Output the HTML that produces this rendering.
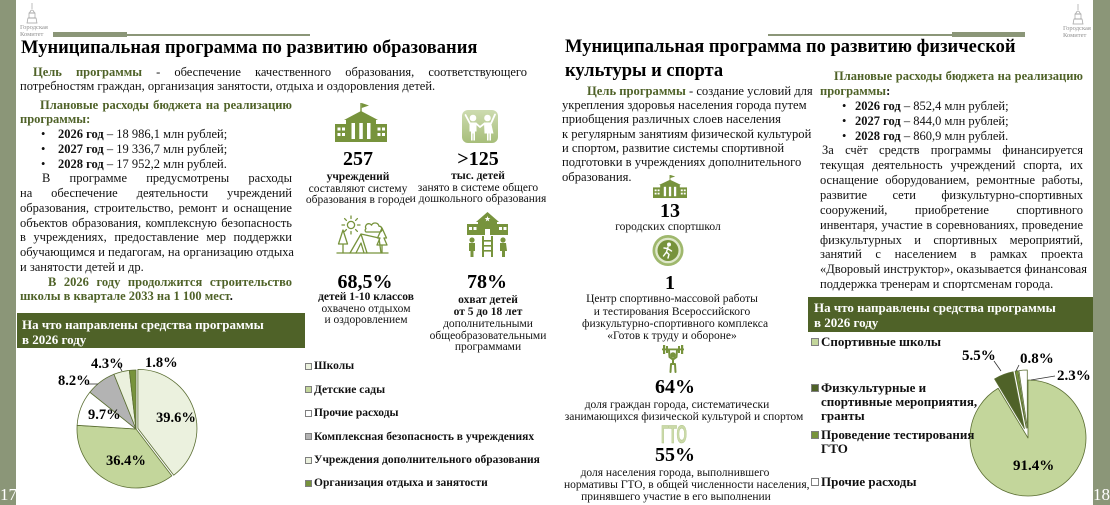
<!DOCTYPE html>
<html><head><meta charset="utf-8">
<style>
*{margin:0;padding:0;box-sizing:border-box}
html,body{width:1110px;height:505px;overflow:hidden;background:#fff}
body{position:relative;font-family:"Liberation Serif","DejaVu Serif",serif;color:#111}
.a{position:absolute;white-space:nowrap}
.j{text-align:justify;text-align-last:justify}
.g{color:#4f6228;font-weight:bold}
.b{font-weight:bold}
.t{font-size:12.5px;line-height:14.8px;height:14.8px}
.m{font-size:12.6px;line-height:14.3px;height:14.3px}
.s{font-size:11.5px;line-height:12px;height:12px;text-align:center}
.n{font-size:20px;line-height:22px;height:22px;font-weight:bold;text-align:center;color:#000}
.lg{font-size:11.5px;line-height:12px;font-weight:bold;color:#111}
.rg{font-size:13px;line-height:14px;font-weight:bold;color:#111}
.mk{position:absolute;border:1px solid #7f7f7f}
</style></head><body>

<svg style="position:absolute;left:0;top:0" width="1110" height="505" viewBox="0 0 1110 505">
<defs>
<linearGradient id="kg" x1="0" y1="0" x2="0" y2="1"><stop offset="0" stop-color="#cddbb0"/><stop offset="1" stop-color="#a7be7a"/></linearGradient>
</defs>
<rect x="0" y="0" width="16" height="505" fill="#8b9678"/>
<rect x="1093" y="0" width="17" height="505" fill="#8b9678"/>
<rect x="53" y="32" width="74" height="5" fill="#8b9678"/>
<rect x="127" y="34" width="183" height="2" fill="#8b9678"/>
<rect x="768" y="34" width="184" height="2" fill="#8b9678"/>
<rect x="952" y="32" width="73" height="5" fill="#8b9678"/>
<g stroke="#a0a0a0" stroke-width="0.7" fill="none">
<line x1="32" y1="3" x2="32" y2="9"/><path d="M29.5,13 Q32,7 34.5,13 Z"/><rect x="29" y="13" width="6" height="5"/><path d="M27,23 L28,18 L36,18 L37,23 Z"/>
<line x1="1078" y1="4" x2="1078" y2="10"/><path d="M1075.5,14 Q1078,8 1080.5,14 Z"/><rect x="1075" y="14" width="6" height="5"/><path d="M1073,24 L1074,19 L1082,19 L1083,24 Z"/>
</g>
<text x="20" y="29" font-size="6.5" fill="#909090" font-family="Liberation Serif">Городская</text>
<text x="20" y="36" font-size="6.5" fill="#909090" font-family="Liberation Serif">Комитет</text>
<text x="1063" y="30" font-size="6.5" fill="#909090" font-family="Liberation Serif">Городская</text>
<text x="1063" y="37" font-size="6.5" fill="#909090" font-family="Liberation Serif">Комитет</text>

<rect x="17" y="313" width="288" height="35" fill="#4f6228"/>
<rect x="808" y="297" width="285" height="35" fill="#4f6228"/>

<g>
<g fill="#77933c">
<rect x="360.3" y="103" width="1.4" height="10"/>
<polygon points="361.7,103 369,105.5 361.7,108"/>
<polygon points="344,120 361,111 378,120"/>
<rect x="346" y="119" width="30" height="23"/>
<rect x="335" y="124" width="52" height="18"/>
</g>
<g fill="#fff">
<rect x="337.5" y="127.5" width="3" height="3"/><rect x="342" y="127.5" width="3" height="3"/>
<rect x="337.5" y="133" width="3" height="3"/><rect x="342" y="133" width="3" height="3"/>
<rect x="377.5" y="127.5" width="3" height="3"/><rect x="382" y="127.5" width="3" height="3"/>
<rect x="377.5" y="133" width="3" height="3"/><rect x="382" y="133" width="3" height="3"/>
<rect x="351.5" y="123" width="3.5" height="16"/><rect x="359.3" y="123" width="3.5" height="16"/><rect x="367" y="123" width="3.5" height="16"/>
</g>
</g>
<g transform="translate(653,175) scale(0.654,0.59) translate(-335,-103)">
<g fill="#77933c">
<rect x="360.3" y="103" width="1.4" height="10"/>
<polygon points="361.7,103 369,105.5 361.7,108"/>
<polygon points="344,120 361,111 378,120"/>
<rect x="346" y="119" width="30" height="23"/>
<rect x="335" y="124" width="52" height="18"/>
</g>
<g fill="#fff">
<rect x="337.5" y="127.5" width="3" height="3"/><rect x="342" y="127.5" width="3" height="3"/>
<rect x="337.5" y="133" width="3" height="3"/><rect x="342" y="133" width="3" height="3"/>
<rect x="377.5" y="127.5" width="3" height="3"/><rect x="382" y="127.5" width="3" height="3"/>
<rect x="377.5" y="133" width="3" height="3"/><rect x="382" y="133" width="3" height="3"/>
<rect x="351.5" y="123" width="3.5" height="16"/><rect x="359.3" y="123" width="3.5" height="16"/><rect x="367" y="123" width="3.5" height="16"/>
</g>
</g>

<rect x="462" y="110" width="36" height="33" rx="6" fill="url(#kg)"/>
<g fill="#fff">
<circle cx="473" cy="118" r="3.3"/><circle cx="487.5" cy="118" r="3.3"/>
<path d="M469.5,122.5 h7 v9 h-1.5 v9 h-1.6 v-7 h-0.8 v7 h-1.6 v-9 h-1.5z"/>
<path d="M484,122.5 h7 l2.5,11 h-2.5 v7 h-1.6 v-7 h-0.8 v7 h-1.6 v-7 h-2.5z"/>
</g>
<g stroke="#fff" stroke-width="1.8" stroke-linecap="round" fill="none">
<path d="M470,123.5 L465.5,115"/><path d="M476,123.5 L480,127 L484.5,123.5"/><path d="M491,123.5 L495,114.5"/>
</g>

<g stroke="#77933c" stroke-width="1.3" fill="none" stroke-linecap="round" stroke-linejoin="round">
<circle cx="351" cy="225" r="3.6"/>
<path d="M351,216 v2.5 M351,231.5 v2.5 M342,225 h2.5 M357.5,225 h2.5 M344.6,218.6 l1.8,1.8 M355.6,229.6 l1.8,1.8 M357.4,218.6 l-1.8,1.8 M346.4,229.6 l-1.8,1.8"/>
<path d="M366,232 h14 a3,3 0 0 0 -1,-5.8 a4,4 0 0 0 -7.5,-1 a3,3 0 0 0 -5.5,3.5 a2,2 0 0 0 0,3.3z"/>
<path d="M350,253 L361,234 L379,238 L381,253 M361,234 L367,253 M356,253 L361,243 L364,253"/>
<path d="M343,230 L338.5,244 H347.5 Z M343,244 V253"/>
<path d="M382,228 L377.5,238 h2.5 l-3,7 h10 l-3,-7 h2.5 Z M382,245 V253"/>
<path d="M337,253 H388"/>
</g>

<g fill="#77933c">
<polygon points="476,222 487.5,212 499,222"/>
<rect x="478" y="221" width="19" height="14"/>
<rect x="467" y="224" width="11" height="11"/>
<rect x="497" y="224" width="11" height="11"/>
<circle cx="472" cy="240" r="2.6"/><path d="M469,243 h6 v8 h-1.5 v6 h-3 v-6 h-1.5z"/>
<circle cx="503" cy="240" r="2.6"/><path d="M500,243 h6 l1,8 h-2 v6 h-3 v-6 h-2z"/>
<path d="M482,236 h2 v21 h-2z M491,236 h2 v21 h-2z M484,240 h7 v1.6 h-7z M484,245 h7 v1.6 h-7z M484,250 h7 v1.6 h-7z"/>
</g>
<g fill="#fff">
<polygon points="487.5,216 488.2,218.03 490.35,218.07 488.64,219.37 489.26,221.43 487.5,220.2 485.74,221.43 486.36,219.37 484.65,218.07 486.8,218.03"/>
<rect x="469" y="227" width="3" height="3"/><rect x="473.5" y="227" width="3" height="3"/>
<rect x="499" y="227" width="3" height="3"/><rect x="503.5" y="227" width="3" height="3"/>
<rect x="485" y="229" width="5" height="6"/>
</g>

<circle cx="668" cy="250.5" r="15.5" fill="#9fb86d"/>
<circle cx="668" cy="250.5" r="12.8" fill="#dfe8cb"/>
<circle cx="668" cy="250.5" r="10.5" fill="#77933c"/>
<g stroke="#fff" stroke-width="1.4" fill="none" stroke-linecap="round">
<circle cx="669" cy="244.5" r="1.3" fill="#fff"/>
<path d="M668,247 L666.5,252 L669,254.5 L668,258 M666.5,252 L663.5,256 M667.5,248.5 L671.5,251 M667.5,248.5 L664,248"/>
</g>

<g fill="#77933c">
<rect x="662" y="348.5" width="22" height="1.8"/>
<rect x="663" y="345" width="2.2" height="9"/><rect x="666" y="346" width="2" height="7"/>
<rect x="678" y="346" width="2" height="7"/><rect x="681" y="345" width="2.2" height="9"/>
<circle cx="673" cy="355" r="2.8"/>
</g>
<g stroke="#77933c" stroke-width="2" fill="none" stroke-linecap="round" stroke-linejoin="round">
<path d="M669,350 L669.5,357 L673,359.5 L676.5,357 L677,350"/>
<path d="M673,359 V364 M670.5,372 L671,364 H675 L675.5,372"/>
</g>

<text x="661" y="443" font-size="25" font-weight="bold" font-family="Liberation Sans" fill="#cbdaa8" stroke="#b0c58a" stroke-width="0.6" textLength="26" lengthAdjust="spacingAndGlyphs">ГТО</text>

<g stroke="#5b6e33" stroke-width="0.8" stroke-linejoin="round">
<path d="M137.9,428.36 L137.9,369.36 A59,59 0 0 1 173.77,475.2 Z" fill="#ebf1de"/>
<path d="M136,429 L171.87,475.84 A59,59 0 0 1 77.12,425.29 Z" fill="#c3d69b"/>
<path d="M136,429 L77.12,425.29 A59,59 0 0 1 89.85,392.24 Z" fill="#ffffff"/>
<path d="M136,429 L89.85,392.24 A59,59 0 0 1 113.94,374.28 Z" fill="#b3b3b3"/>
<path d="M136,429 L113.94,374.28 A59,59 0 0 1 129.34,370.38 Z" fill="#ebf1de"/>
<path d="M136,429 L129.34,370.38 A59,59 0 0 1 136,370 Z" fill="#77933c"/>
</g>
<g stroke="#333" stroke-width="0.8">
<line x1="88" y1="384" x2="98" y2="384"/>
<line x1="119" y1="366" x2="122" y2="371"/>
</g>
<g font-family="Liberation Serif" font-weight="bold" font-size="14.5" fill="#000">
<text x="156" y="422">39.6%</text>
<text x="106" y="465">36.4%</text>
<text x="88" y="419">9.7%</text>
<text x="58" y="385">8.2%</text>
<text x="91" y="368">4.3%</text>
<text x="145" y="367">1.8%</text>
</g>

<g stroke="#5b6e33" stroke-width="0.8" stroke-linejoin="round">
<path d="M1028,438 L1028,380 A58,58 0 1 1 998.16,388.26 Z" fill="#c3d69b"/>
<path d="M1024.41,428.67 L994.57,378.93 A58,58 0 0 1 1013.18,371.77 Z" fill="#4f6228"/>
<path d="M1026.31,428.14 L1015.08,371.24 A58,58 0 0 1 1017.96,370.74 Z" fill="#77933c"/>
<path d="M1027.28,428.03 L1018.93,370.63 A58,58 0 0 1 1027.28,370.03 Z" fill="#ffffff"/>
</g>
<g stroke="#333" stroke-width="0.8">
<line x1="994" y1="361" x2="1001" y2="371"/>
<line x1="1019" y1="365" x2="1016" y2="371"/>
<line x1="1031" y1="380" x2="1055" y2="376"/>
</g>
<g font-family="Liberation Serif" font-weight="bold" font-size="15" fill="#000">
<text x="1013" y="470">91.4%</text>
<text x="962" y="360">5.5%</text>
<text x="1020" y="363">0.8%</text>
<text x="1057" y="380">2.3%</text>
</g>
</svg>

<div class="a" style="left:0;top:485px;width:16px;text-align:center;font-size:17px;line-height:20px;color:#fff">17</div>
<div class="a" style="left:1093px;top:485px;width:17px;text-align:center;font-size:17px;line-height:20px;color:#fff">18</div>

<!-- LEFT PAGE -->
<div class="a b" style="left:21px;top:36px;font-size:18.5px;line-height:24px;color:#000">Муниципальная программа по развитию образования</div>

<div class="a j t" style="left:33px;top:64.6px;width:494px"><span class="g">Цель программы</span> - обеспечение качественного образования, соответствующего</div>
<div class="a t" style="left:20px;top:79.2px">потребностям граждан, организация занятости, отдыха и оздоровления детей.</div>

<div class="a j t g" style="left:40px;top:97.6px;width:252px">Плановые расходы бюджета на реализацию</div>
<div class="a t g" style="left:20px;top:112.35px">программы:</div>
<div class="a t" style="left:41px;top:127.1px">•</div>
<div class="a t" style="left:58px;top:127.1px"><b>2026 год</b> – 18 986,1 млн рублей;</div>
<div class="a t" style="left:41px;top:141.85px">•</div>
<div class="a t" style="left:58px;top:141.85px"><b>2027 год</b> – 19 336,7 млн рублей;</div>
<div class="a t" style="left:41px;top:156.6px">•</div>
<div class="a t" style="left:58px;top:156.6px"><b>2028 год</b> – 17 952,2 млн рублей.</div>
<div class="a j t" style="left:42px;top:171.35px;width:250px">В программе предусмотрены расходы</div>
<div class="a j t" style="left:20px;top:186.1px;width:272px">на обеспечение деятельности учреждений</div>
<div class="a j t" style="left:20px;top:200.85px;width:272px">образования, строительство, ремонт и оснащение</div>
<div class="a j t" style="left:20px;top:215.6px;width:272px">объектов образования, комплексную безопасность</div>
<div class="a j t" style="left:20px;top:230.35px;width:272px">в учреждениях, предоставление мер поддержки</div>
<div class="a j t" style="left:20px;top:245.1px;width:272px">обучающимся и педагогам, на организацию отдыха</div>
<div class="a t" style="left:20px;top:259.85px">и занятости детей и др.</div>
<div class="a j t g" style="left:48px;top:274.6px;width:244px">В 2026 году продолжится строительство</div>
<div class="a t g" style="left:20px;top:289.35px">школы в квартале 2033 на 1 100 мест<span style="color:#111">.</span></div>

<div class="a n" style="left:308px;top:148px;width:100px">257</div>
<div class="a s b" style="left:293px;top:171px;width:130px">учреждений</div>
<div class="a s" style="left:293px;top:183px;width:130px">составляют систему</div>
<div class="a s" style="left:293px;top:194px;width:130px">образования в городе</div>

<div class="a n" style="left:428px;top:148px;width:100px">&gt;125</div>
<div class="a s b" style="left:403px;top:170px;width:150px">тыс. детей</div>
<div class="a s" style="left:403px;top:182px;width:150px">занято в системе общего</div>
<div class="a s" style="left:403px;top:193px;width:150px">и дошкольного образования</div>

<div class="a n" style="left:315px;top:271px;width:100px">68,5%</div>
<div class="a s b" style="left:301px;top:291px;width:130px">детей 1-10 классов</div>
<div class="a s" style="left:301px;top:303px;width:130px">охвачено отдыхом</div>
<div class="a s" style="left:301px;top:314px;width:130px">и оздоровлением</div>

<div class="a n" style="left:437px;top:271px;width:100px">78%</div>
<div class="a s b" style="left:423px;top:294px;width:130px">охват детей</div>
<div class="a s b" style="left:423px;top:306px;width:130px">от 5 до 18 лет</div>
<div class="a s" style="left:423px;top:318px;width:130px">дополнительными</div>
<div class="a s" style="left:423px;top:330px;width:130px">общеобразовательными</div>
<div class="a s" style="left:423px;top:341px;width:130px">программами</div>

<div class="a" style="left:22px;top:317px;font-size:13px;line-height:15px;font-weight:bold;color:#fff">На что направлены средства программы<br>в 2026 году</div>

<div class="mk" style="left:305px;top:363px;width:7px;height:7px;background:#ebf1de"></div>
<div class="a lg" style="left:314px;top:360px">Школы</div>
<div class="mk" style="left:305px;top:386px;width:7px;height:7px;background:#c3d69b"></div>
<div class="a lg" style="left:314px;top:383.5px">Детские сады</div>
<div class="mk" style="left:305px;top:410px;width:7px;height:7px;background:#fff"></div>
<div class="a lg" style="left:314px;top:407px">Прочие расходы</div>
<div class="mk" style="left:305px;top:433px;width:7px;height:7px;background:#b3b3b3"></div>
<div class="a lg" style="left:314px;top:430.5px">Комплексная безопасность в учреждениях</div>
<div class="mk" style="left:305px;top:457px;width:7px;height:7px;background:#ebf1de"></div>
<div class="a lg" style="left:314px;top:454px">Учреждения дополнительного образования</div>
<div class="mk" style="left:305px;top:480px;width:7px;height:7px;background:#77933c"></div>
<div class="a lg" style="left:314px;top:477px">Организация отдыха и занятости</div>

<!-- RIGHT PAGE -->
<div class="a b" style="left:565px;top:36px;font-size:18.5px;line-height:23.5px;color:#000">Муниципальная программа по развитию физической<br>культуры и спорта</div>

<div class="a m" style="left:587px;top:83.7px"><span class="g">Цель программы</span> - создание условий для</div>
<div class="a m" style="left:562px;top:98px">укрепления здоровья населения города путем</div>
<div class="a m" style="left:562px;top:112.3px">приобщения различных слоев населения</div>
<div class="a m" style="left:562px;top:126.6px">к регулярным занятиям физической культурой</div>
<div class="a m" style="left:562px;top:140.9px">и спортом, развитие системы спортивной</div>
<div class="a m" style="left:562px;top:155.2px">подготовки в учреждениях дополнительного</div>
<div class="a m" style="left:562px;top:169.5px">образования.</div>

<div class="a n" style="left:620px;top:200px;width:100px">13</div>
<div class="a s" style="left:598px;top:221px;width:140px">городских спортшкол</div>
<div class="a n" style="left:620px;top:272px;width:100px">1</div>
<div class="a s" style="left:582px;top:293px;width:180px">Центр спортивно-массовой работы</div>
<div class="a s" style="left:582px;top:305.5px;width:180px">и тестирования Всероссийского</div>
<div class="a s" style="left:582px;top:318px;width:180px">физкультурно-спортивного комплекса</div>
<div class="a s" style="left:582px;top:330px;width:180px">«Готов к труду и обороне»</div>
<div class="a n" style="left:625px;top:376px;width:100px">64%</div>
<div class="a s" style="left:577px;top:399px;width:200px">доля граждан города, систематически</div>
<div class="a s" style="left:564px;top:411px;width:240px">занимающихся физической культурой и спортом</div>
<div class="a n" style="left:625px;top:444px;width:100px">55%</div>
<div class="a s" style="left:575px;top:467px;width:200px">доля населения города, выполнившего</div>
<div class="a s" style="left:564px;top:479px;width:240px">нормативы ГТО, в общей численности населения,</div>
<div class="a s" style="left:576px;top:491px;width:200px">принявшего участие в его выполнении</div>

<div class="a j t g" style="left:834px;top:69.1px;width:249px">Плановые расходы бюджета на реализацию</div>
<div class="a t g" style="left:820px;top:83.96px">программы<span style="color:#111">:</span></div>
<div class="a t" style="left:842px;top:98.82px">•</div>
<div class="a t" style="left:855px;top:98.82px"><b>2026 год</b> – 852,4 млн рублей;</div>
<div class="a t" style="left:842px;top:113.68px">•</div>
<div class="a t" style="left:855px;top:113.68px"><b>2027 год</b> – 844,0 млн рублей;</div>
<div class="a t" style="left:842px;top:128.54px">•</div>
<div class="a t" style="left:855px;top:128.54px"><b>2028 год</b> – 860,9 млн рублей.</div>
<div class="a j t" style="left:822px;top:143.4px;width:261px">За счёт средств программы финансируется</div>
<div class="a j t" style="left:820px;top:158.26px;width:263px">текущая деятельность учреждений спорта, их</div>
<div class="a j t" style="left:820px;top:173.12px;width:263px">оснащение оборудованием, ремонтные работы,</div>
<div class="a j t" style="left:820px;top:187.98px;width:263px">развитие сети физкультурно-спортивных</div>
<div class="a j t" style="left:820px;top:202.84px;width:263px">сооружений, приобретение спортивного</div>
<div class="a j t" style="left:820px;top:217.7px;width:263px">инвентаря, участие в соревнованиях, проведение</div>
<div class="a j t" style="left:820px;top:232.56px;width:263px">физкультурных и спортивных мероприятий,</div>
<div class="a j t" style="left:820px;top:247.42px;width:263px">занятий с населением в рамках проекта</div>
<div class="a j t" style="left:820px;top:262.28px;width:263px">«Дворовый инструктор», оказывается финансовая</div>
<div class="a t" style="left:820px;top:277.14px">поддержка тренерам и спортсменам города.</div>

<div class="a" style="left:814px;top:301px;font-size:13px;line-height:14.5px;font-weight:bold;color:#fff">На что направлены средства программы<br>в 2026 году</div>

<div class="mk" style="left:811px;top:338px;width:8px;height:8px;background:#c3d69b"></div>
<div class="a rg" style="left:821px;top:335px">Спортивные школы</div>
<div class="mk" style="left:811px;top:384px;width:8px;height:8px;background:#4f6228"></div>
<div class="a rg" style="left:821px;top:381px">Физкультурные и<br>спортивные мероприятия,<br>гранты</div>
<div class="mk" style="left:811px;top:431px;width:8px;height:8px;background:#77933c"></div>
<div class="a rg" style="left:821px;top:428px">Проведение тестирования<br>ГТО</div>
<div class="mk" style="left:811px;top:478px;width:8px;height:8px;background:#fff"></div>
<div class="a rg" style="left:821px;top:475px">Прочие расходы</div>

</body></html>
